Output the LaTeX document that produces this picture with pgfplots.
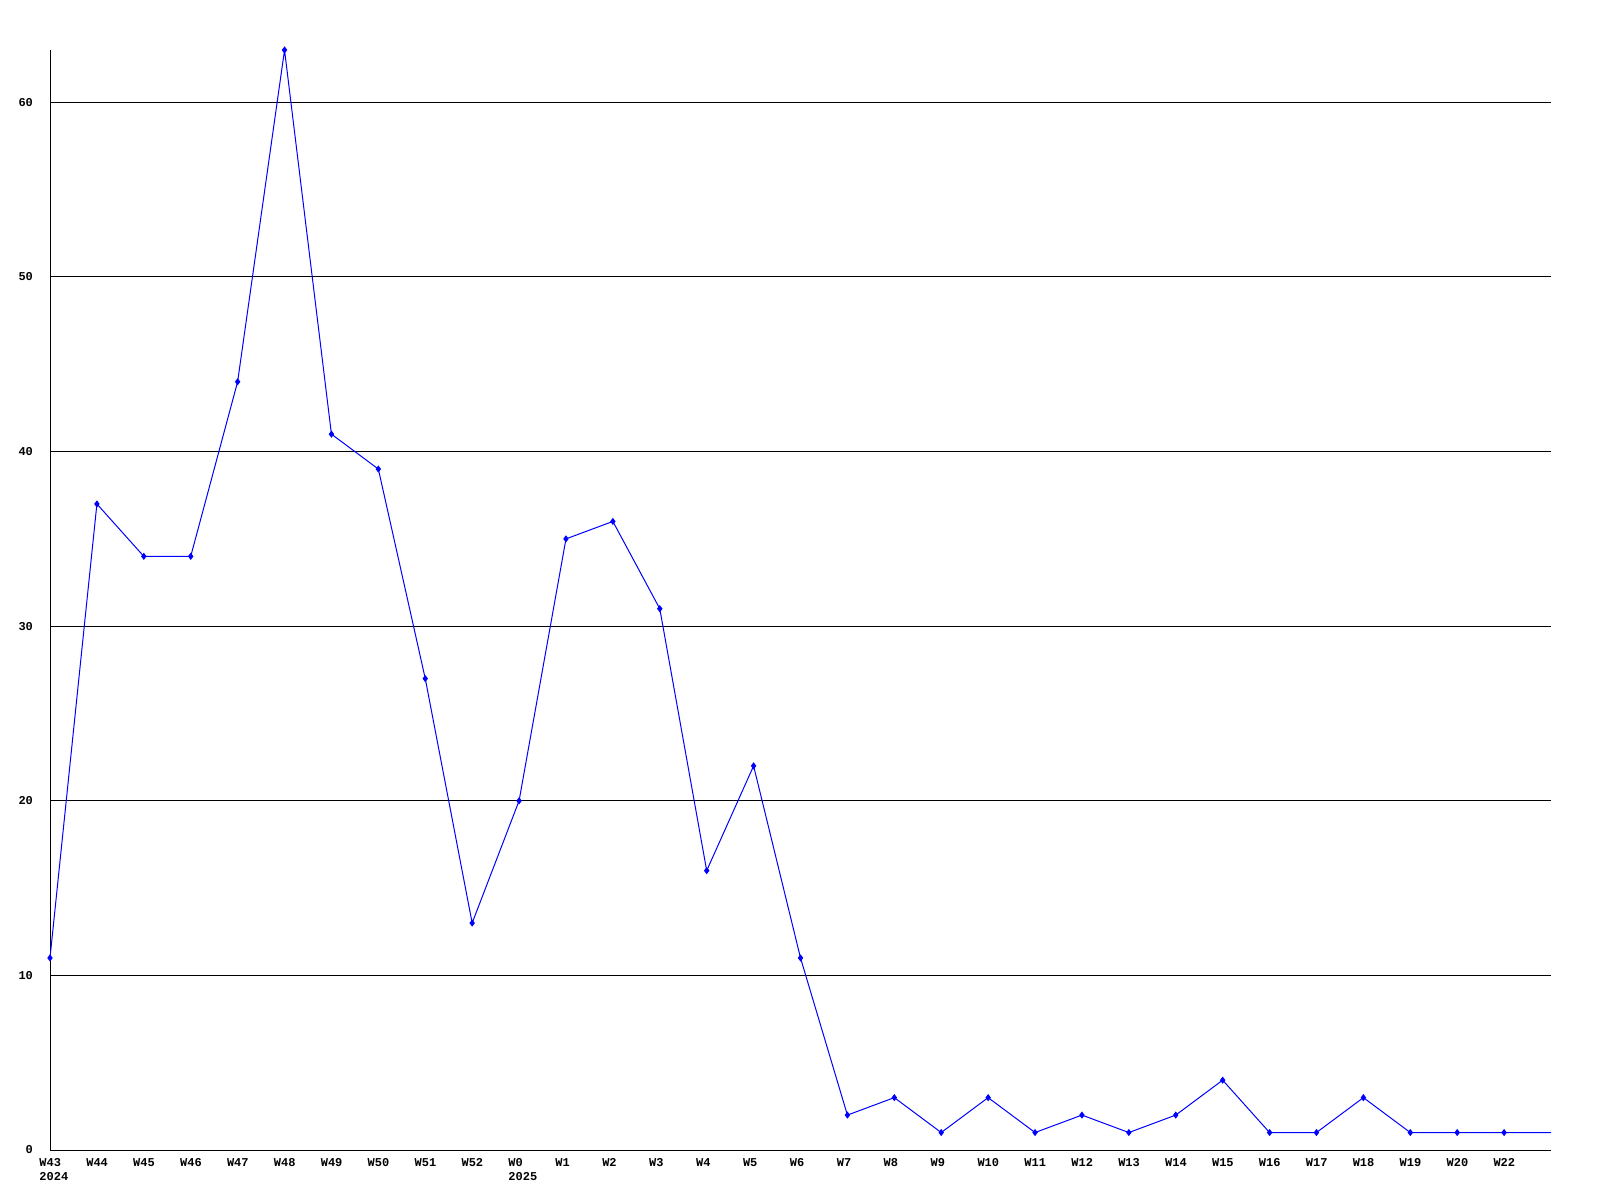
\documentclass[border=0pt]{standalone}
\usepackage{pgfplots}
\pgfplotsset{compat=1.18}
\usepackage{fontspec}
\setmainfont{Liberation Mono}
\begin{document}
\begin{tikzpicture}[x=1pt,y=1pt]
\useasboundingbox (0,0) rectangle (800,600);
\begin{axis}[
  at={(25pt,25pt)}, anchor=south west,
  scale only axis, width=750.5pt, height=550pt,
  xmin=0, xmax=32, ymin=0, ymax=63,
  axis x line=bottom, axis y line=left,
  axis line style={-, black, line width=0.5pt},
  xtick={0,...,31},
  xticklabels={{W43\\2024},W44,W45,W46,W47,W48,W49,W50,W51,W52,{W0\\2025},W1,W2,W3,W4,W5,W6,W7,W8,W9,W10,W11,W12,W13,W14,W15,W16,W17,W18,W19,W20,W22},
  xticklabel style={align=left, anchor=north west, xshift=-6.5pt, yshift=-3pt, inner sep=1pt, font=\fontsize{6}{7.2}\selectfont\bfseries},
  ytick={0,10,...,60},
  yticklabel style={anchor=east, xshift=-5pt, font=\fontsize{6}{7}\selectfont\bfseries},
  /pgf/number format/assume math mode=true,
  major tick length=0pt,
  ymajorgrids, grid style={black, line width=0.5pt},
  clip=false,
]
\addplot[blue, line width=0.5pt, mark=diamond*, mark size=1.4pt, mark indices={1,...,32}, mark options={fill=blue, draw=blue}] coordinates {
(0,11)(1,37)(2,34)(3,34)(4,44)(5,63)(6,41)(7,39)(8,27)(9,13)(10,20)(11,35)(12,36)(13,31)(14,16)(15,22)(16,11)(17,2)(18,3)(19,1)(20,3)(21,1)(22,2)(23,1)(24,2)(25,4)(26,1)(27,1)(28,3)(29,1)(30,1)(31,1)(32,1)
};
\end{axis}
\end{tikzpicture}
\end{document}
